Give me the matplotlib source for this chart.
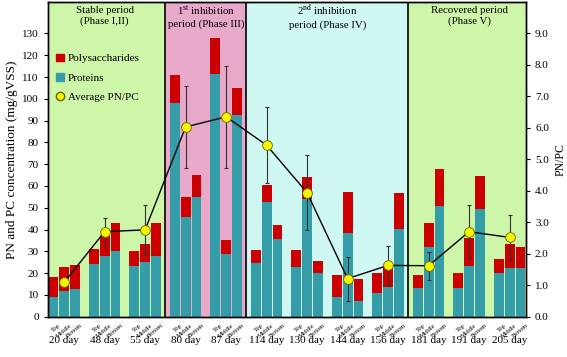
import matplotlib
matplotlib.use("Agg")
import matplotlib.pyplot as plt
import numpy as np
from matplotlib.patches import Patch
from matplotlib.lines import Line2D

plt.rcParams['font.family'] = ['Liberation Serif', 'DejaVu Serif']
plt.rcParams['mathtext.fontset'] = 'custom'
plt.rcParams['mathtext.rm'] = 'Liberation Serif'

days = ["20 day", "48 day", "55 day", "80 day", "87 day", "114 day", "130 day",
        "144 day", "156 day", "181 day", "191 day", "205 day"]
positions = ["Top", "Middle", "Bottom"]

# Proteins (PN) per group: Top, Middle, Bottom
proteins = [
    [9.0, 11.8, 12.7],
    [24.0, 28.0, 30.0],
    [23.1, 25.1, 28.0],
    [97.9, 45.9, 54.9],
    [111.3, 28.8, 92.5],
    [24.5, 52.5, 35.6],
    [22.9, 53.8, 20.0],
    [9.2, 38.2, 7.1],
    [10.7, 13.5, 40.1],
    [13.2, 32.1, 50.9],
    [13.2, 23.3, 49.3],
    [20.0, 22.2, 22.2],
]
# Total (PN + PC) per group
totals = [
    [18.1, 23.0, 23.9],
    [31.0, 37.2, 43.1],
    [30.1, 33.2, 43.0],
    [110.9, 54.9, 65.1],
    [128.0, 35.2, 104.8],
    [30.6, 60.4, 42.2],
    [30.7, 64.2, 25.7],
    [19.3, 57.2, 17.3],
    [20.2, 22.9, 57.0],
    [19.1, 43.1, 68.0],
    [20.2, 36.3, 64.4],
    [26.3, 33.3, 32.1],
]
pnpc = [1.09, 2.70, 2.76, 6.03, 6.35, 5.45, 3.94, 1.21, 1.63, 1.62, 2.70, 2.52]
pnpc_err = [0.10, 0.44, 0.80, 1.30, 1.63, 1.20, 1.20, 0.70, 0.62, 0.45, 0.84, 0.72]

phases = ["Stable period\n(Phase I,II)",
          "1$^{\\mathrm{st}}$ inhibition\nperiod (Phase III)",
          "2$^{\\mathrm{nd}}$ inhibition\nperiod (Phase IV)",
          "Recovered period\n(Phase V)"]
phase_groups = [(0, 2), (3, 4), (5, 8), (9, 11)]
phase_colors = ["#CDF6A9", "#E8A9CB", "#D0F8F3", "#CDF6A9"]

RED = "#CC0000"
TEAL = "#359DA8"

fig = plt.figure(figsize=(5.67, 3.57), dpi=100)
ax = fig.add_axes([0.0841, 0.1129, 0.8436, 0.8815])

gp = 3.7
group_x = np.arange(len(days)) * gp
bar_x = np.array([g + np.arange(3) for g in group_x])

xmin, xmax = -0.5, bar_x[-1, -1] + 0.5
ax.set_xlim(xmin, xmax)
ax.set_ylim(0, 130 / 0.9)

# phase backgrounds
for (g0, g1), col in zip(phase_groups, phase_colors):
    left = xmin if g0 == 0 else (bar_x[g0 - 1, -1] + bar_x[g0, 0]) / 2
    right = xmax if g1 == len(days) - 1 else (bar_x[g1, -1] + bar_x[g1 + 1, 0]) / 2
    ax.axvspan(left, right, color=col, zorder=0, lw=0)
    if g0 != 0:
        ax.axvline(left, color="black", lw=1.2, zorder=1)

prot = np.array(proteins)
tot = np.array(totals)
poly = tot - prot
w = 0.9
for i in range(len(days)):
    ax.bar(bar_x[i], prot[i], width=w, color=TEAL, zorder=2, lw=0)
    ax.bar(bar_x[i], poly[i], bottom=prot[i], width=w, color=RED, zorder=2, lw=0)

ax.set_yticks(np.arange(0, 131, 10))
ax.set_xticks([])
ax.tick_params(axis="y", labelsize=8, length=3, width=0.8)
ax.set_ylabel("PN and PC concentration (mg/gVSS)", fontsize=9.5, labelpad=3)

# rotated position labels
trans = ax.get_xaxis_transform()
for i in range(len(days)):
    for j, lab in enumerate(positions):
        ax.text(bar_x[i, j] + 0.45, -0.02, lab, transform=trans, rotation=40,
                rotation_mode="anchor", ha="right", va="top", fontsize=4.6,
                clip_on=False)
    ax.text(bar_x[i, 1], -0.075, days[i], transform=trans, ha="center",
            va="center", fontsize=8, clip_on=False)

# phase titles
for (g0, g1), t in zip(phase_groups, phases):
    xc = (bar_x[g0, 0] + bar_x[g1, -1]) / 2
    ax.text(xc, 0.955, t, transform=trans, ha="center", va="center",
            fontsize=7.8, linespacing=1.25)

ax2 = ax.twinx()
ax2.set_ylim(0, 10)
ax2.set_yticks(np.arange(0, 9.1, 1.0))
ax2.set_yticklabels([f"{v:.1f}" for v in np.arange(0, 9.1, 1.0)])
ax2.tick_params(axis="y", labelsize=8, length=3, width=0.8)
ax2.set_ylabel("PN/PC", fontsize=8.5, labelpad=4)
ax2.errorbar(bar_x[:, 1], pnpc, yerr=pnpc_err, fmt="none", ecolor="#333333",
             elinewidth=0.8, capsize=1.5, capthick=0.8, zorder=3)
ax2.plot(bar_x[:, 1], pnpc, color="black", lw=1.0, marker="o", ms=7,
         mfc="#F5F500", mec="#666600", mew=0.6, zorder=4)

for a in (ax, ax2):
    for s in a.spines.values():
        s.set_linewidth(1.0)

handles = [Patch(color=RED, label="Polysaccharides"),
           Patch(color=TEAL, label="Proteins"),
           Line2D([0], [0], color="black", lw=0.8, marker="o", ms=6,
                  mfc="#F5F500", mec="#666600", label="Average PN/PC")]
ax.legend(handles=handles, loc="upper left", bbox_to_anchor=(0.008, 0.85),
          frameon=False, fontsize=8, handlelength=0.7, handleheight=0.7,
          handletextpad=0.4, labelspacing=0.85, borderaxespad=0)

fig.savefig("out.png", dpi=100)
